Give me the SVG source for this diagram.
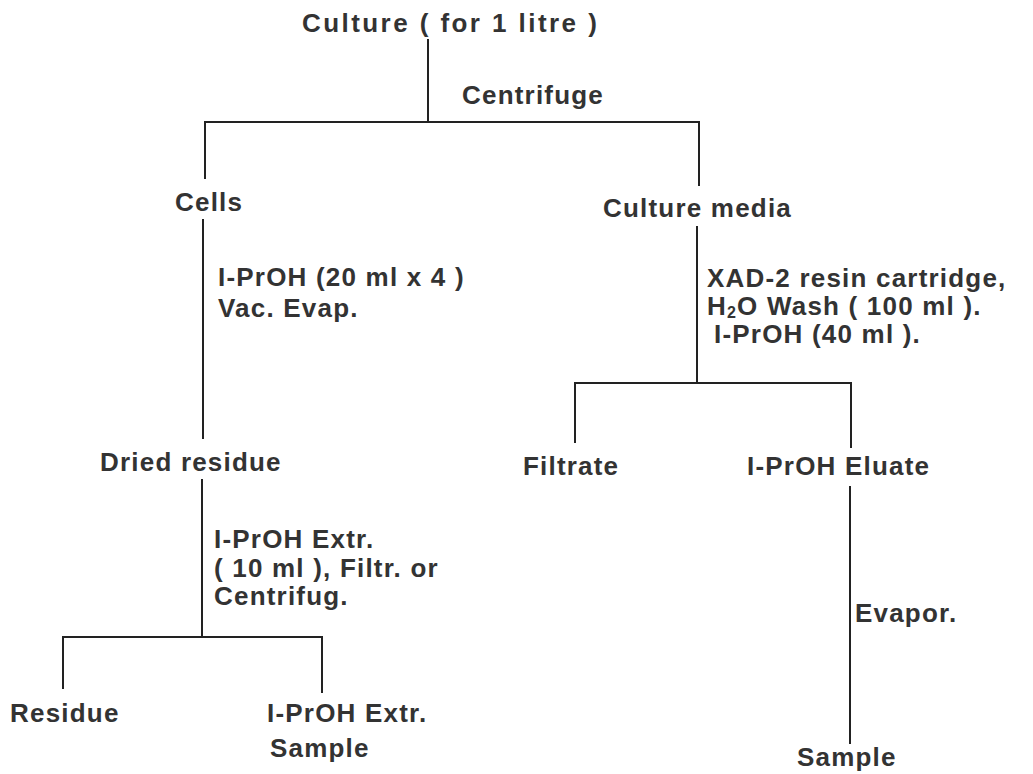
<svg xmlns="http://www.w3.org/2000/svg" width="1033" height="774" viewBox="0 0 1033 774">
<style>
.t{font-family:"Liberation Sans",Arial,sans-serif;font-size:26px;font-weight:bold;fill:#333;letter-spacing:1.2px}
.c line{stroke:#222;stroke-width:2;stroke-linecap:square}
</style>
<rect width="1033" height="774" fill="#fff"/>
<g class="c" id="connectors">
<line x1="428" y1="40" x2="428" y2="122"/>
<line x1="205" y1="122" x2="699" y2="122"/>
<line x1="205" y1="122" x2="205" y2="178"/>
<line x1="699" y1="122" x2="699" y2="185"/>
<line x1="203" y1="220" x2="203" y2="438"/>
<line x1="202" y1="480" x2="202" y2="637"/>
<line x1="63" y1="637" x2="322" y2="637"/>
<line x1="63" y1="637" x2="63" y2="688"/>
<line x1="322" y1="637" x2="322" y2="692"/>
<line x1="697" y1="227" x2="697" y2="383"/>
<line x1="575" y1="383" x2="851" y2="383"/>
<line x1="575" y1="383" x2="575" y2="442"/>
<line x1="851" y1="383" x2="851" y2="447"/>
<line x1="850" y1="487" x2="850" y2="743"/>
</g>
<g id="culture"><text class="t" x="302" y="32" textLength="296" lengthAdjust="spacing">Culture ( for 1 litre )</text></g>
<g id="lbl-centrifuge"><text class="t" x="462" y="104">Centrifuge</text></g>
<g id="cells"><text class="t" x="175" y="211">Cells</text></g>
<g id="lbl-cells"><text class="t" x="218" y="286">I-PrOH (20 ml x 4 )</text><text class="t" x="218" y="317">Vac. Evap.</text></g>
<g id="dried-residue"><text class="t" x="100" y="471">Dried residue</text></g>
<g id="lbl-dried"><text class="t" x="214" y="548">I-PrOH Extr.</text><text class="t" x="214" y="577">( 10 ml ), Filtr. or</text><text class="t" x="214" y="605">Centrifug.</text></g>
<g id="residue"><text class="t" x="10" y="722">Residue</text></g>
<g id="extr-sample"><text class="t" x="267" y="722">I-PrOH Extr.</text><text class="t" x="270" y="757">Sample</text></g>
<g id="culture-media"><text class="t" x="603" y="217">Culture media</text></g>
<g id="lbl-media"><text class="t" x="707" y="287">XAD-2 resin cartridge,</text><text class="t" x="707" y="315">H<tspan font-size="16" dy="3">2</tspan><tspan dy="-3">O Wash ( 100 ml ).</tspan></text><text class="t" x="714" y="343">I-PrOH (40 ml ).</text></g>
<g id="filtrate"><text class="t" x="523" y="475">Filtrate</text></g>
<g id="eluate"><text class="t" x="747" y="475">I-PrOH Eluate</text></g>
<g id="lbl-evapor"><text class="t" x="855" y="622">Evapor.</text></g>
<g id="sample"><text class="t" x="797" y="766">Sample</text></g>
</svg>
